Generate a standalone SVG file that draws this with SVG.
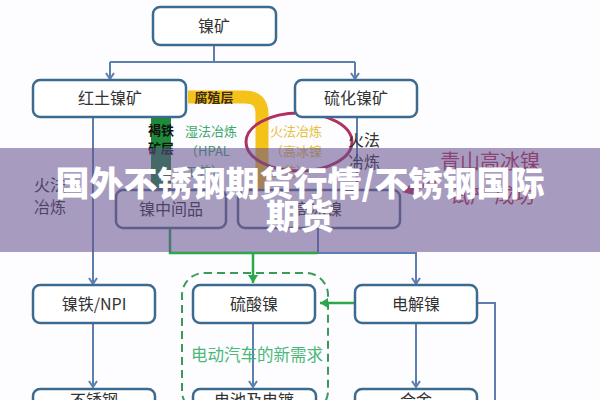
<svg xmlns="http://www.w3.org/2000/svg" width="600" height="400" viewBox="0 0 600 400">
<style>
.box{fill:#fff;stroke:#3d6b8f;stroke-width:2.5}
.box2{fill:#fff;stroke:#5a6f8a;stroke-width:2.5}
.t{font-family:"Noto Sans CJK SC","Noto Sans",sans-serif;font-size:16px;fill:#333;text-anchor:middle}
.s{font-family:"Noto Sans CJK SC","Noto Sans",sans-serif;font-size:13px}
.ln{fill:none;stroke:#5b7fb0;stroke-width:2}
.gl{fill:none;stroke:#2aa84a;stroke-width:2.5}
.ttl{font-family:"Noto Sans CJK SC","Noto Sans",sans-serif;font-size:34px;font-weight:900;fill:#fff;text-anchor:middle}
</style>
<defs>
<marker id="ab" markerWidth="10" markerHeight="10" refX="7" refY="5" orient="auto" markerUnits="userSpaceOnUse"><path d="M1,1 L7,5 L1,9" fill="none" stroke="#5b7fb0" stroke-width="2"/></marker>
<marker id="ag" markerWidth="12" markerHeight="12" refX="9" refY="6" orient="auto" markerUnits="userSpaceOnUse"><path d="M1,1 L9,6 L1,11 Z" fill="#2aa84a"/></marker>
</defs>
<rect width="600" height="400" fill="#fdfcfe"/>
<g id="connectors">
<path class="ln" d="M214,45 V62 M110,62 H355"/>
<path class="ln" d="M110,62 V79" marker-end="url(#ab)"/>
<path class="ln" d="M355,62 V79" marker-end="url(#ab)"/>
<path class="ln" d="M93,117 V284" marker-end="url(#ab)"/>
<path class="ln" d="M357,117 V190"/>
<path class="ln" d="M318,228 V253 H416 V284" marker-end="url(#ab)"/>
<path class="gl" d="M170,228 V253 H318"/>
<path class="gl" d="M253,253 V283" marker-end="url(#ag)"/>
<path class="gl" d="M355,303 H320" marker-end="url(#ag)" stroke-width="2"/>
<path class="ln" d="M477,303 H495 V400"/>
<path class="ln" d="M93,323 V387" marker-end="url(#ab)"/>
<path class="ln" d="M253,323 V387" marker-end="url(#ab)"/>
<path class="ln" d="M416,323 V387" marker-end="url(#ab)"/>
</g>
<g id="layers">
<path d="M188,97 H245 Q262,97 262,114 V190" fill="none" stroke="#f5c21a" stroke-width="13"/>
<text class="s" x="214" y="102" text-anchor="middle" font-weight="bold" fill="#3a2a10">腐殖层</text>
<rect x="151" y="118" width="20" height="72" fill="#1f8a3a"/>
<text class="s" x="161" y="135" text-anchor="middle" font-weight="bold" fill="#111">褐铁</text>
<text class="s" x="161" y="153" text-anchor="middle" font-weight="bold" fill="#111">矿层</text>
<text class="s" x="185" y="136" fill="#3aaa6a">湿法冶炼</text>
<text class="s" x="185" y="156" fill="#3aaa6a">（HPAL</text>
<text class="s" x="185" y="176" fill="#3aaa6a">工艺）</text>
<text class="s" x="270" y="136" fill="#e6c23c">火法冶炼</text>
<text class="s" x="270" y="156" fill="#e6c23c">（高冰镍</text>
<text class="s" x="270" y="176" fill="#e6c23c">工艺）</text>
<ellipse cx="299" cy="142" rx="53" ry="29" fill="none" stroke="#b03060" stroke-width="3"/>
<text class="t" x="50" y="191" text-anchor="start" fill="#555">火法</text>
<text class="t" x="50" y="213" text-anchor="start" fill="#555">冶炼</text>
<text class="t" x="364" y="146" text-anchor="start">火法</text>
<text class="t" x="364" y="168" text-anchor="start" fill="#555">冶炼</text>
<text x="440" y="169" font-family="Noto Sans CJK SC,sans-serif" font-size="20" fill="#c03050">青山高冰镍</text>
<text x="450" y="203" font-family="Noto Sans CJK SC,sans-serif" font-size="20" fill="#c03050">试产 成功</text>
<path d="M436,182 L408,190" stroke="#c03050" stroke-width="4" fill="none"/>
<path d="M402,192 L412,183 L414,195 Z" fill="#c03050"/>
<rect x="182" y="273" width="146" height="140" rx="22" fill="none" stroke="#3a9a5a" stroke-width="2" stroke-dasharray="8,5"/>
<text x="191" y="361" font-family="Noto Sans CJK SC,sans-serif" font-size="16.5" fill="#4ab87a">电动汽车的新需求</text>
</g>
<g id="n1"><rect class="box" x="153" y="7" width="123" height="38" rx="7"/><text class="t" x="214" y="32" font-size="17">镍矿</text></g>
<g id="n2"><rect class="box" x="33" y="80" width="153" height="37" rx="7"/><text class="t" x="110" y="104">红土镍矿</text></g>
<g id="n3"><rect class="box" x="295" y="80" width="122" height="37" rx="7"/><text class="t" x="356" y="104">硫化镍矿</text></g>
<g id="n4"><rect class="box2" x="116" y="190" width="110" height="38" rx="7"/><text class="t" x="171" y="215" fill="#555">镍中间品</text></g>
<g id="n5"><rect class="box2" x="238" y="190" width="162" height="38" rx="7"/><text class="t" x="318" y="215" fill="#555">高冰镍</text></g>
<g id="n6"><rect class="box" x="33" y="285" width="122" height="38" rx="7"/><text class="t" x="94" y="310">镍铁/NPI</text></g>
<g id="n7"><rect class="box" x="193" y="285" width="122" height="38" rx="7"/><text class="t" x="254" y="310">硫酸镍</text></g>
<g id="n8"><rect class="box" x="355" y="285" width="122" height="38" rx="7"/><text class="t" x="416" y="310">电解镍</text></g>
<g id="n9"><rect class="box" x="33" y="389" width="122" height="38" rx="7"/><text class="t" x="94" y="406">不锈钢</text></g>
<g id="n10"><rect class="box" x="193" y="389" width="123" height="38" rx="7"/><text class="t" x="254" y="406">电池及电镀</text></g>
<g id="n11"><rect class="box" x="355" y="389" width="122" height="38" rx="7"/><text class="t" x="416" y="406">合金</text></g>
<g id="title">
<rect x="0" y="148" width="600" height="104" fill="rgb(100,80,140)" fill-opacity="0.56"/>
<text class="ttl" x="300" y="196">国外不锈钢期货行情/不锈钢国际</text>
<text class="ttl" x="300" y="229">期货</text>
</g>
</svg>
